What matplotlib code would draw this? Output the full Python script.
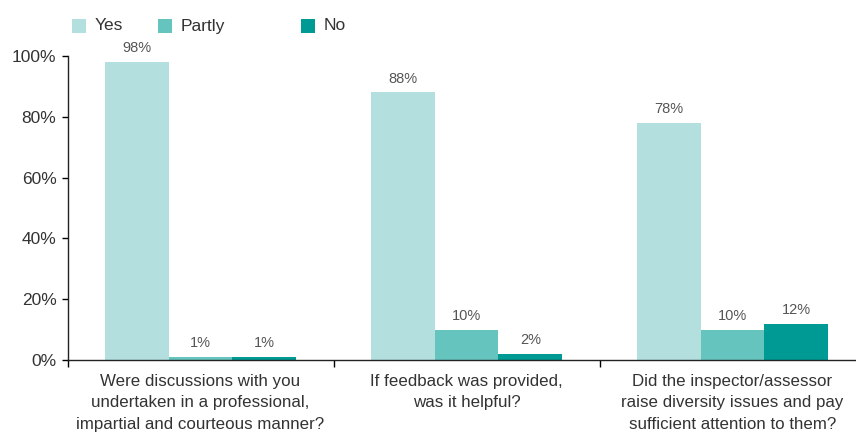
import matplotlib
matplotlib.use('Agg')
import matplotlib.pyplot as plt
from matplotlib.patches import Rectangle

plt.rcParams['font.family'] = ['Liberation Sans', 'DejaVu Sans']

# survey responses, percent of respondents
categories = [
    "Were discussions with you\nundertaken in a professional,\nimpartial and courteous manner?",
    "If feedback was provided,\nwas it helpful?",
    "Did the inspector/assessor\nraise diversity issues and pay\nsufficient attention to them?",
]
series_names = ["Yes", "Partly", "No"]
yes_vals = [98, 88, 78]
partly_vals = [1, 10, 10]
no_vals = [1, 2, 12]
y_ticks = [0, 20, 40, 60, 80, 100]

colors = ['#b3e0de', '#66c4bf', '#009a94']
text_col = '#333333'

fig = plt.figure(figsize=(8.56, 4.32), dpi=100)
ax = fig.add_axes([67.5 / 856, 1 - 360 / 432, 798 / 856, 304 / 432])

width = 0.24
x = list(range(len(categories)))
for i, (vals, col) in enumerate(zip([yes_vals, partly_vals, no_vals], colors)):
    pos = [xi + (i - 1) * width for xi in x]
    ax.bar(pos, vals, width=width, color=col, linewidth=0)
    for p, v in zip(pos, vals):
        ax.annotate(f"{v}%", (p, v), xytext=(0, 5), textcoords='offset points',
                    ha='center', va='bottom', fontsize=10.5, color='#555555')

ax.set_xlim(-0.5, 2.5)
ax.set_ylim(0, 100)
ax.set_yticks(y_ticks)
ax.set_yticklabels([f"{t}%" for t in y_ticks], fontsize=12.5, color=text_col)
ax.tick_params(axis='y', length=4, width=1, pad=4, direction='out')

ax.set_xticks(x)
ax.set_xticklabels(categories, fontsize=12.2, color=text_col, linespacing=1.55)
ax.tick_params(axis='x', which='major', length=0, pad=10)
ax.set_xticks([-0.5, 0.5, 1.5, 2.5], minor=True)
ax.tick_params(axis='x', which='minor', length=5, width=1, direction='out')

for s in ['top', 'right']:
    ax.spines[s].set_visible(False)
for s in ['left', 'bottom']:
    ax.spines[s].set_linewidth(1)
    ax.spines[s].set_color('#222222')

# legend drawn by hand to keep the uneven spacing
leg_x = [72, 158, 301]
for lx, name, col in zip(leg_x, series_names, colors):
    fig.patches.append(Rectangle((lx / 856, 1 - 33 / 432), 14 / 856, 14 / 432,
                                 transform=fig.transFigure, color=col, linewidth=0))
    fig.text((lx + 23) / 856, 1 - 26 / 432, name, fontsize=12.5, color=text_col,
             va='center', ha='left')

fig.savefig('out.png', dpi=100)
plt.close(fig)
